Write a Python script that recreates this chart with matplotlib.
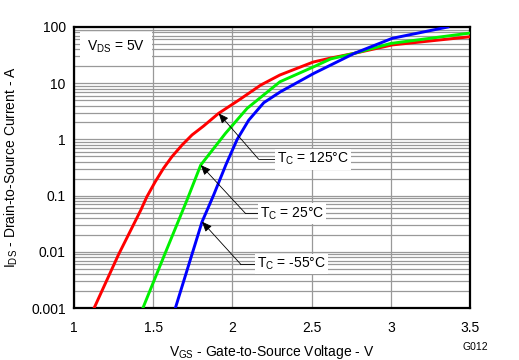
import numpy as np
import matplotlib
matplotlib.use("Agg")
import matplotlib.pyplot as plt
from matplotlib.ticker import LogLocator, NullFormatter, FixedLocator

plt.rcParams['font.family'] = ['Liberation Sans', 'DejaVu Sans']
plt.rcParams['mathtext.fontset'] = 'custom'
plt.rcParams['mathtext.rm'] = 'Liberation Sans'

# curve data (V_GS in V, I_DS in A)
red_v = [1.127, 1.28, 1.422, 1.46, 1.513, 1.565, 1.618, 1.682, 1.745, 1.818, 1.913,
         2.04, 2.18, 2.30, 2.51, 2.62, 2.77, 3.01, 3.5]
red_i = [0.001, 0.0088, 0.0555, 0.0955, 0.177, 0.306, 0.492, 0.794, 1.2, 1.73, 2.91,
         5.0, 9.3, 14, 23.8, 28, 34, 48, 67]

green_v = [1.435, 1.571, 1.713, 1.80, 1.956, 2.093, 2.30, 2.515, 2.62, 2.77, 3.0, 3.5]
green_i = [0.001, 0.0088, 0.083, 0.35, 1.28, 3.57, 10.6, 19.7, 27, 34, 51, 78]

blue_v = [1.64, 1.808, 1.88, 1.96, 2.03, 2.103, 2.198, 2.304, 2.515, 2.62, 2.77, 3.01, 3.36]
blue_i = [0.001, 0.034, 0.1, 0.36, 1.0, 2.2, 4.5, 7.06, 15, 21, 34, 63, 100]

xticks = [1, 1.5, 2, 2.5, 3, 3.5]
xticklabels = ["1", "1.5", "2", "2.5", "3", "3.5"]
yticks = [0.001, 0.01, 0.1, 1, 10, 100]
yticklabels = ["0.001", "0.01", "0.1", "1", "10", "100"]

# annotation: label, arrow tip, elbow, end of horizontal leader
labels = ["$\\mathregular{T_C}$ = 125°C", "$\\mathregular{T_C}$ = 25°C", "$\\mathregular{T_C}$ = -55°C"]
tips = [(1.913, 2.91), (1.80, 0.35), (1.808, 0.0344)]
elbows = [(2.166, 0.443), (2.082, 0.0484), (2.051, 0.00607)]
ends = [2.272, 2.166, 2.146]

fig = plt.figure(figsize=(5.19, 3.6), dpi=100)
ax = fig.add_axes([0.1426, 0.1444, 0.763, 0.7806])

ax.set_yscale("log")
ax.set_xlim(1, 3.5)
ax.set_ylim(0.001, 100)

ax.xaxis.set_major_locator(FixedLocator(xticks))
ax.set_xticklabels(xticklabels)
ax.yaxis.set_major_locator(FixedLocator(yticks))
ax.set_yticklabels(yticklabels)
ax.yaxis.set_minor_locator(LogLocator(base=10, subs=np.arange(2, 10)))
ax.yaxis.set_minor_formatter(NullFormatter())

ax.grid(True, which="major", axis="both", color="#999999", lw=0.9)
ax.grid(True, which="minor", axis="y", color="#999999", lw=0.9)
ax.set_axisbelow(True)
ax.tick_params(which="both", length=0, labelsize=10)
ax.tick_params(axis="x", pad=9)
ax.tick_params(axis="y", pad=6)

for s in ax.spines.values():
    s.set_linewidth(1.6)
    s.set_color("black")

ax.plot(red_v, red_i, color="#ff0000", lw=2.1, zorder=3, solid_joinstyle="round")
ax.plot(green_v, green_i, color="#00f000", lw=2.1, zorder=3, solid_joinstyle="round")
ax.plot(blue_v, blue_i, color="#0000ff", lw=2.1, zorder=3, solid_joinstyle="round")

for lab, tip, elb, endx in zip(labels, tips, elbows, ends):
    ax.annotate("", xy=tip, xytext=elb,
                arrowprops=dict(arrowstyle="-|>,head_length=0.6,head_width=0.25",
                                color="black", lw=0.6, shrinkA=0, shrinkB=0),
                zorder=5)
    ax.plot([elb[0], endx], [elb[1], elb[1]], color="black", lw=0.6, zorder=5)
    ax.text(endx + 0.008, elb[1], lab, fontsize=10, ha="left", va="center",
            bbox=dict(facecolor="white", edgecolor="none", pad=1.5), zorder=6)

ax.text(1.08, 44, "$\\mathregular{V_{DS}}$ = 5V", fontsize=10, ha="left", va="center",
        bbox=dict(facecolor="white", edgecolor="none", pad=5), zorder=6)

ax.set_xlabel("$\\mathregular{V_{GS}}$ - Gate-to-Source Voltage - V", fontsize=10)
ax.set_ylabel("$\\mathregular{I_{DS}}$ - Drain-to-Source Current - A", fontsize=10)
ax.xaxis.set_label_coords(0.5, -0.125)
ax.yaxis.set_label_coords(-0.136, 0.5)

fig.text(0.915, 0.036, "G012", fontsize=7.5, ha="center", va="center")

fig.savefig("out.png", dpi=100)
